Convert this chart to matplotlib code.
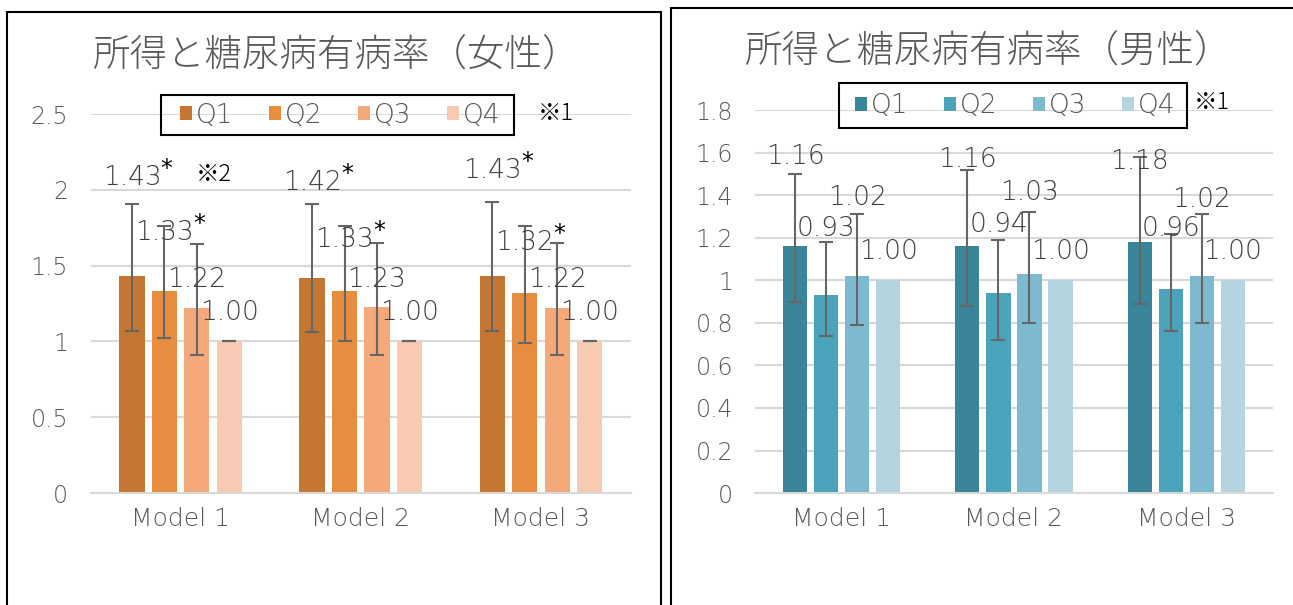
import numpy as np
import matplotlib
matplotlib.use("Agg")
import matplotlib.pyplot as plt
from matplotlib.patches import Patch, Rectangle

plt.rcParams['font.family'] = ['DejaVu Sans', 'Noto Sans CJK JP']
plt.rcParams['font.weight'] = 'light'
JP = ['Noto Sans CJK JP', 'DejaVu Sans']

# data
models = ["Model 1", "Model 2", "Model 3"]
quartiles = ["Q1", "Q2", "Q3", "Q4"]

# women: odds ratio per quartile (rows) x model (cols)
f_or = [[1.43, 1.42, 1.43],
        [1.33, 1.33, 1.32],
        [1.22, 1.23, 1.22],
        [1.00, 1.00, 1.00]]
f_lo = [[1.07, 1.06, 1.07],
        [1.02, 1.00, 0.99],
        [0.91, 0.91, 0.91],
        [1.00, 1.00, 1.00]]
f_hi = [[1.91, 1.91, 1.92],
        [1.76, 1.76, 1.76],
        [1.64, 1.65, 1.65],
        [1.00, 1.00, 1.00]]
f_sig = [[True, True, True],
         [True, True, True],
         [False, False, False],
         [False, False, False]]

# men
m_or = [[1.16, 1.16, 1.18],
        [0.93, 0.94, 0.96],
        [1.02, 1.03, 1.02],
        [1.00, 1.00, 1.00]]
m_lo = [[0.90, 0.88, 0.89],
        [0.74, 0.72, 0.76],
        [0.79, 0.80, 0.80]]
m_hi = [[1.50, 1.52, 1.58],
        [1.18, 1.19, 1.22],
        [1.31, 1.32, 1.31]]

# where the value labels sit (hand placed in the original)
f_label_y = [[2.08, 2.05, 2.13],
             [1.72, 1.675, 1.655],
             [1.41, 1.41, 1.41],
             [1.19, 1.19, 1.19]]
m_label_y = [[1.584, 1.57, 1.56],
             [1.245, 1.264, 1.245],
             [1.39, 1.414, 1.38],
             [1.134, 1.134, 1.134]]

f_colors = ['#C47632', '#E88C40', '#F5A97A', '#F8CAB2']
m_colors = ['#3A8599', '#4AA3BB', '#7DBACF', '#B6D4DF']

txt_gray = '#595959'
lab_gray = '#404040'
grid_gray = '#D9D9D9'
err_gray = '#666666'

W, H = 1293, 605
fig = plt.figure(figsize=(W / 100, H / 100), dpi=100)

ax1 = fig.add_axes([0.070, 0.185, 0.418, 0.6264])
ax2 = fig.add_axes([0.5842, 0.185, 0.400, 0.633])

x = np.arange(len(models))
step = 0.18
width = 0.14


def style_axis(ax, ymax, yticks, ylabels):
    ax.set_xlim(-0.5, 2.5)
    ax.set_ylim(0, ymax)
    ax.set_yticks(yticks)
    ax.set_yticklabels(ylabels)
    ax.set_xticks(x)
    ax.set_xticklabels(models)
    ax.yaxis.grid(True, color=grid_gray, lw=1.5)
    ax.set_axisbelow(True)
    for s in ['top', 'right', 'left']:
        ax.spines[s].set_visible(False)
    ax.spines['bottom'].set_color(grid_gray)
    ax.spines['bottom'].set_linewidth(1.5)
    ax.tick_params(axis='both', length=0, labelsize=17, colors=txt_gray)
    ax.tick_params(axis='x', labelsize=18, pad=10)
    ax.tick_params(axis='y', pad=16)


# women
for i in range(4):
    xi = x + (i - 1.5) * step
    ax1.bar(xi, f_or[i], width, color=f_colors[i], zorder=2)
    yerr = [np.array(f_or[i]) - np.array(f_lo[i]), np.array(f_hi[i]) - np.array(f_or[i])]
    ax1.errorbar(xi, f_or[i], yerr=yerr, fmt='none', ecolor=err_gray,
                 elinewidth=1.5, capsize=5, capthick=1.5, zorder=3)
    for j in range(3):
        ax1.text(xi[j], f_label_y[i][j], f"{f_or[i][j]:.2f}", ha='center', va='center',
                 fontsize=19, color=lab_gray, zorder=4)
        if f_sig[i][j]:
            ax1.annotate("*", (xi[j], f_label_y[i][j]), xytext=(25, 6),
                         textcoords='offset points', ha='center', va='center',
                         fontsize=17, color='black', fontweight='normal', zorder=4)

style_axis(ax1, 2.5, [0, 0.5, 1, 1.5, 2, 2.5], ["0", "0.5", "1", "1.5", "2", "2.5"])

# men
for i in range(4):
    xi = x + (i - 1.5) * step
    ax2.bar(xi, m_or[i], width, color=m_colors[i], zorder=2)
    if i < 3:
        yerr = [np.array(m_or[i]) - np.array(m_lo[i]), np.array(m_hi[i]) - np.array(m_or[i])]
        ax2.errorbar(xi, m_or[i], yerr=yerr, fmt='none', ecolor=err_gray,
                     elinewidth=1.5, capsize=5, capthick=1.5, zorder=3)
    for j in range(3):
        ax2.text(xi[j], m_label_y[i][j], f"{m_or[i][j]:.2f}", ha='center', va='center',
                 fontsize=19, color=lab_gray, zorder=4)

m_ticks = np.round(np.arange(0, 1.81, 0.2), 1)
style_axis(ax2, 1.8, m_ticks, [f"{t:g}" for t in m_ticks])

# legends: frame drawn separately so its padding matches the original box
for cols, box in [(f_colors, (161, 95, 514, 135)), (m_colors, (839, 83, 1187, 128))]:
    x0, y0, x1, y1 = box
    fig.add_artist(Rectangle((x0 / W, 1 - y1 / H), (x1 - x0) / W, (y1 - y0) / H,
                             transform=fig.transFigure, fill=False,
                             edgecolor='black', lw=1.5))
    handles = [Patch(facecolor=c, edgecolor='none') for c in cols]
    fig.legend(handles, quartiles, loc='center',
               bbox_to_anchor=((x0 + x1) / 2 / W + 0.002, 1 - (y0 + y1) / 2 / H), ncol=4,
               fontsize=19, frameon=False, handlelength=0.45,
               handleheight=0.45, handletextpad=0.15, columnspacing=1.35,
               borderpad=0.2, borderaxespad=0, labelcolor=txt_gray)

# titles and notes
fig.text(0.2607, 0.9074, "所得と糖尿病有病率（女性）", ha='center', va='center',
         fontsize=27, color=txt_gray, family=JP)
fig.text(0.765, 0.914, "所得と糖尿病有病率（男性）", ha='center', va='center',
         fontsize=27, color=txt_gray, family=JP)
fig.text(0.4296, 0.813, "※1", ha='center', va='center', fontsize=17, color='black', family=JP)
fig.text(0.937, 0.83, "※1", ha='center', va='center', fontsize=17, color='black', family=JP)
fig.text(0.1655, 0.711, "※2", ha='center', va='center', fontsize=17, color='black', family=JP)

# panel borders
fig.add_artist(Rectangle((0.0054, -0.05), 0.5058, 1.03, transform=fig.transFigure,
                         fill=False, edgecolor='black', lw=1.5))
fig.add_artist(Rectangle((0.519, -0.05), 0.6, 1.037, transform=fig.transFigure,
                         fill=False, edgecolor='black', lw=1.5))

fig.savefig("out.png", dpi=100)
